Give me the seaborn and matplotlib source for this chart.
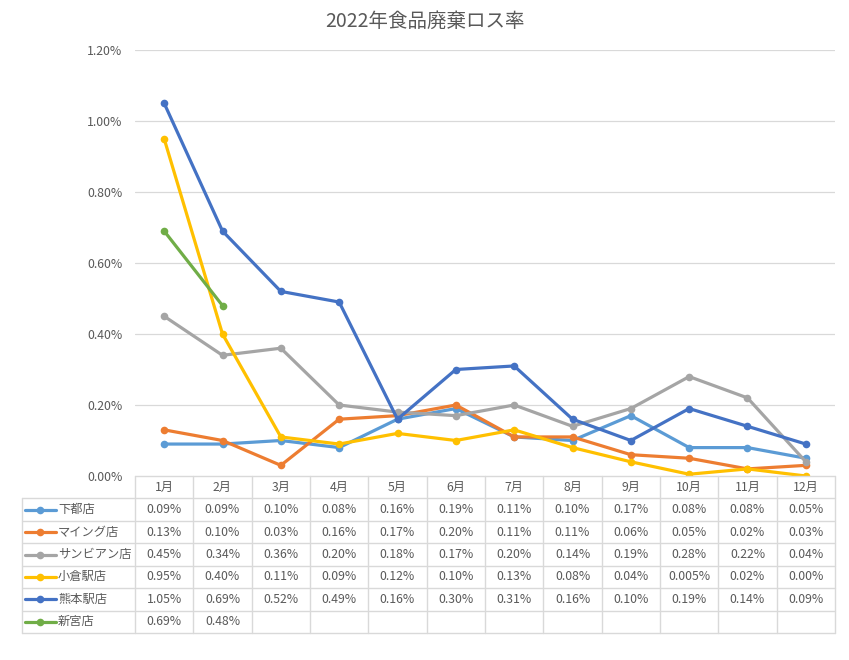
import numpy as np
import pandas as pd
import matplotlib
matplotlib.use("Agg")
import matplotlib.pyplot as plt
import seaborn as sns

months = ["1月", "2月", "3月", "4月", "5月", "6月", "7月", "8月", "9月", "10月", "11月", "12月"]
stores = ["下都店", "マイング店", "サンビアン店", "小倉駅店", "熊本駅店", "新宮店"]
shimoto = [0.09, 0.09, 0.10, 0.08, 0.16, 0.19, 0.11, 0.10, 0.17, 0.08, 0.08, 0.05]
maing = [0.13, 0.10, 0.03, 0.16, 0.17, 0.20, 0.11, 0.11, 0.06, 0.05, 0.02, 0.03]
sunbian = [0.45, 0.34, 0.36, 0.20, 0.18, 0.17, 0.20, 0.14, 0.19, 0.28, 0.22, 0.04]
kokura = [0.95, 0.40, 0.11, 0.09, 0.12, 0.10, 0.13, 0.08, 0.04, 0.005, 0.02, 0.00]
kumamoto = [1.05, 0.69, 0.52, 0.49, 0.16, 0.30, 0.31, 0.16, 0.10, 0.19, 0.14, 0.09]
shingu = [0.69, 0.48] + [np.nan] * 10
table_labels = [
    ["0.09%", "0.09%", "0.10%", "0.08%", "0.16%", "0.19%", "0.11%", "0.10%", "0.17%", "0.08%", "0.08%", "0.05%"],
    ["0.13%", "0.10%", "0.03%", "0.16%", "0.17%", "0.20%", "0.11%", "0.11%", "0.06%", "0.05%", "0.02%", "0.03%"],
    ["0.45%", "0.34%", "0.36%", "0.20%", "0.18%", "0.17%", "0.20%", "0.14%", "0.19%", "0.28%", "0.22%", "0.04%"],
    ["0.95%", "0.40%", "0.11%", "0.09%", "0.12%", "0.10%", "0.13%", "0.08%", "0.04%", "0.005%", "0.02%", "0.00%"],
    ["1.05%", "0.69%", "0.52%", "0.49%", "0.16%", "0.30%", "0.31%", "0.16%", "0.10%", "0.19%", "0.14%", "0.09%"],
    ["0.69%", "0.48%", "", "", "", "", "", "", "", "", "", ""],
]
yticks = [0.0, 0.2, 0.4, 0.6, 0.8, 1.0, 1.2]
colors = ["#5B9BD5", "#ED7D31", "#A5A5A5", "#FFC000", "#4472C4", "#70AD47"]
title = "2022年食品廃棄ロス率"

sns.set_theme(style="white")
plt.rcParams["font.family"] = ["Noto Sans CJK JP", "DejaVu Sans"]
TXT = "#595959"
GRID = "#D9D9D9"
FS = 8.8

series = [shimoto, maing, sunbian, kokura, kumamoto, shingu]
rows = []
for s, vals in zip(stores, series):
    for i, v in enumerate(vals):
        rows.append({"store": s, "x": i, "value": v})
df = pd.DataFrame(rows)

W, H = 849, 660
fig = plt.figure(figsize=(W / 100, H / 100), dpi=100)
fig.patch.set_facecolor("white")

L, R, T, B = 135, 835, 50, 476
ax = fig.add_axes([L / W, 1 - B / H, (R - L) / W, (B - T) / H])
sns.lineplot(data=df, x="x", y="value", hue="store", hue_order=stores,
             palette=colors, marker="o", markersize=5.5, markeredgewidth=0,
             linewidth=2.3, legend=False, ax=ax, estimator=None, sort=False)
ax.set_xlim(-0.5, 11.5)
ax.set_ylim(0, 1.2)
ax.set_yticks(yticks)
ax.set_yticklabels([f"{t:.2f}%" for t in yticks], color=TXT, fontsize=FS)
ax.set_xticks([])
ax.set_xlabel("")
ax.set_ylabel("")
ax.tick_params(axis="y", length=0, pad=9)
for y in yticks[1:]:
    ax.axhline(y, color=GRID, lw=0.9, zorder=0)
for sp in ax.spines.values():
    sp.set_visible(False)

fig.text(0.5, 1 - 21 / H, title, ha="center", va="center", fontsize=14, color=TXT)

# data table
TL, TT, TB = 22, 476, 633
unit = (R - L) / 12.0
xleft = -0.5 - (L - TL) / unit
tax = fig.add_axes([TL / W, 1 - TB / H, (R - TL) / W, (TB - TT) / H])
tax.set_xlim(xleft, 11.5)
tax.set_ylim(7, 0)
tax.axis("off")
lc = dict(color=GRID, lw=1.0, clip_on=False)
tax.plot([-0.5, 11.5], [0, 0], **lc)
for r in range(1, 8):
    tax.plot([xleft, 11.5], [r, r], **lc)
for k in range(13):
    tax.plot([-0.5 + k, -0.5 + k], [0, 7], **lc)
tax.plot([xleft, xleft], [1, 7], **lc)
for i, m in enumerate(months):
    tax.text(i, 0.5, m, ha="center", va="center", fontsize=FS, color=TXT)
for r, (s, c, labs) in enumerate(zip(stores, colors, table_labels)):
    yy = r + 1.5
    x0 = xleft + 3 / unit
    x1 = xleft + 34 / unit
    tax.plot([x0, x1], [yy, yy], color=c, lw=2.3, clip_on=False, solid_capstyle="round")
    tax.plot([(x0 + x1) / 2], [yy], "o", color=c, ms=5.5, mew=0, clip_on=False)
    tax.text(xleft + 36 / unit, yy, s, ha="left", va="center", fontsize=FS, color=TXT)
    for i, t in enumerate(labs):
        if t:
            tax.text(i, yy, t, ha="center", va="center", fontsize=FS, color=TXT)

fig.savefig("out.png", dpi=100, facecolor="white")
